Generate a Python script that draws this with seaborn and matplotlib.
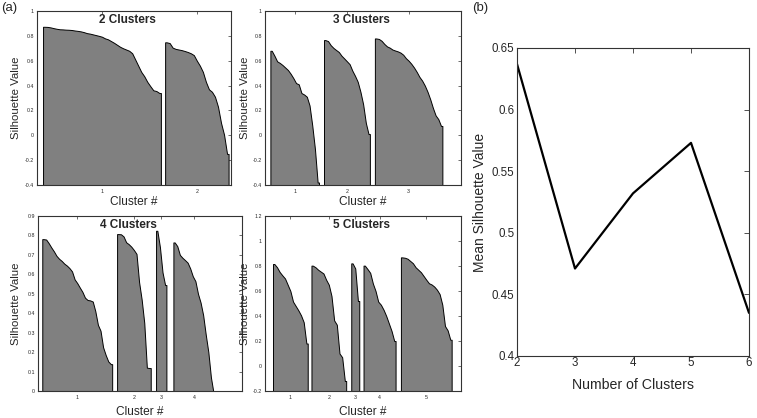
import numpy as np
import pandas as pd
import matplotlib
matplotlib.use("Agg")
import matplotlib.pyplot as plt
import seaborn as sns
from matplotlib.ticker import FuncFormatter

# ---------------- data: sorted silhouette values per cluster ----------------
s2_c1 = [0.873, 0.872, 0.868, 0.862, 0.857, 0.853, 0.852, 0.850, 0.849, 0.847,
         0.843, 0.840, 0.836, 0.830, 0.822, 0.818, 0.812, 0.806, 0.800, 0.793,
         0.780, 0.772, 0.758, 0.744, 0.728, 0.712, 0.700, 0.690, 0.680, 0.660,
         0.610, 0.560, 0.510, 0.475, 0.430, 0.395, 0.362, 0.356, 0.340]
s2_c2 = [0.748, 0.742, 0.705, 0.695, 0.690, 0.685, 0.678, 0.670, 0.660, 0.645,
         0.600, 0.560, 0.510, 0.430, 0.370, 0.350, 0.310, 0.230, 0.100, 0.005,
         -0.150]

s3_c1 = [0.680, 0.640, 0.595, 0.582, 0.565, 0.545, 0.525, 0.495, 0.460, 0.420,
         0.410, 0.340, 0.328, 0.310, 0.240, 0.080, -0.110, -0.380]
s3_c2 = [0.766, 0.758, 0.725, 0.703, 0.686, 0.670, 0.640, 0.618, 0.595, 0.572,
         0.520, 0.478, 0.430, 0.350, 0.250, 0.100, 0.010]
s3_c3 = [0.779, 0.775, 0.760, 0.735, 0.715, 0.705, 0.690, 0.682, 0.675, 0.665,
         0.648, 0.620, 0.600, 0.575, 0.545, 0.510, 0.470, 0.440, 0.400, 0.350,
         0.290, 0.220, 0.160, 0.130, 0.075]

s4_c1 = [0.781, 0.779, 0.760, 0.738, 0.718, 0.695, 0.680, 0.669, 0.655, 0.645,
         0.632, 0.615, 0.574, 0.555, 0.532, 0.510, 0.480, 0.468, 0.466, 0.460,
         0.410, 0.340, 0.310, 0.225, 0.185, 0.152, 0.138]
s4_c2 = [0.807, 0.806, 0.795, 0.765, 0.755, 0.742, 0.725, 0.705, 0.560, 0.470,
         0.350, 0.120, 0.118]
s4_c3 = [0.824, 0.740, 0.610, 0.545]
s4_c4 = [0.764, 0.745, 0.700, 0.685, 0.673, 0.660, 0.630, 0.590, 0.565, 0.500,
         0.455, 0.390, 0.290, 0.200, 0.070, -0.010]

s5_c1 = [0.816, 0.790, 0.752, 0.725, 0.700, 0.650, 0.600, 0.515, 0.480, 0.445,
         0.405, 0.350, 0.180]
s5_c2 = [0.803, 0.790, 0.770, 0.755, 0.740, 0.690, 0.650, 0.560, 0.365, 0.330,
         0.100, 0.070, -0.120]
s5_c3 = [0.821, 0.780, 0.520]
s5_c4 = [0.803, 0.775, 0.745, 0.660, 0.600, 0.515, 0.490, 0.450, 0.400, 0.340,
         0.280, 0.200]
s5_c5 = [0.869, 0.866, 0.858, 0.840, 0.822, 0.790, 0.770, 0.750, 0.720, 0.690,
         0.662, 0.652, 0.635, 0.610, 0.575, 0.490, 0.320, 0.285, 0.210]

yticks_k2 = [-0.4, -0.2, 0, 0.2, 0.4, 0.6, 0.8, 1]
yticks_k3 = [-0.4, -0.2, 0, 0.2, 0.4, 0.6, 0.8, 1]
yticks_k4 = [0, 0.1, 0.2, 0.3, 0.4, 0.5, 0.6, 0.7, 0.8, 0.9]
yticks_k5 = [-0.2, 0, 0.2, 0.4, 0.6, 0.8, 1, 1.2]

n_clusters = [2, 3, 4, 5, 6]
mean_sil = [0.637, 0.471, 0.532, 0.573, 0.435]
yticks_b = [0.4, 0.45, 0.5, 0.55, 0.6, 0.65]

# ---------------- style ----------------
sns.set_style("white")
plt.rcParams["font.family"] = ["Liberation Sans", "DejaVu Sans"]

W, H = 757, 418
fig = plt.figure(figsize=(W / 100, H / 100), dpi=100)

SPINE = "#333333"
FILL = "#808080"
fmt = FuncFormatter(lambda v, p: "%g" % round(v, 3))


def add_axes_px(x0, y0, x1, y1):
    return fig.add_axes([x0 / W, 1 - y1 / H, (x1 - x0) / W, (y1 - y0) / H])


# layout (pixels / units), kept separate from the data
panels = [
    dict(k=2, clusters=[s2_c1, s2_c2], rect=(37, 11, 231, 185), ylim=(-0.4, 1.0),
         yticks=yticks_k2, left=2.0, gaps=[1.4], xmax=64.2,
         ylab_x=16, xlab_y=201.7, title_xy=(127.7, 20)),
    dict(k=3, clusters=[s3_c1, s3_c2, s3_c3], rect=(265, 11, 461, 185), ylim=(-0.4, 1.0),
         yticks=yticks_k3, left=2.0, gaps=[1.85, 1.85], xmax=72.6,
         ylab_x=245, xlab_y=201.7, title_xy=(361.7, 20)),
    dict(k=4, clusters=[s4_c1, s4_c2, s4_c3, s4_c4], rect=(38, 216, 242, 391), ylim=(0, 0.9),
         yticks=yticks_k4, left=1.65, gaps=[1.9, 2.05, 2.7], xmax=78.8,
         ylab_x=16, xlab_y=411.7, title_xy=(128, 225)),
    dict(k=5, clusters=[s5_c1, s5_c2, s5_c3, s5_c4, s5_c5], rect=(265, 216, 461, 391),
         ylim=(-0.2, 1.2), yticks=yticks_k5, left=3.0, gaps=[1.4, 1.9, 1.6, 2.0], xmax=73.4,
         ylab_x=245, xlab_y=411.7, title_xy=(361.7, 225)),
]

for p in panels:
    x0, y0, x1, y1 = p["rect"]
    ax = add_axes_px(x0, y0, x1, y1)
    ybot = p["ylim"][0]
    start = p["left"]
    centers = []
    for j, vals in enumerate(p["clusters"]):
        vals = np.asarray(vals, dtype=float)
        n = len(vals)
        xs = np.concatenate([[start], start + np.arange(n) + 0.5, [start + n]])
        ys = np.concatenate([[vals[0]], vals, [vals[-1]]])
        ax.fill_between(xs, ys, ybot - 1.0, facecolor=FILL, edgecolor="black",
                        linewidth=0.7, zorder=2)
        centers.append(start + n / 2)
        if j < len(p["gaps"]):
            start += n + p["gaps"][j]
    ax.set_xlim(0, p["xmax"])
    ax.set_ylim(*p["ylim"])
    ax.set_xticks(centers)
    ax.set_xticklabels([str(i + 1) for i in range(p["k"])])
    ax.set_yticks(p["yticks"])
    ax.yaxis.set_major_formatter(fmt)
    ax.tick_params(axis="both", direction="in", length=2, width=0.5, color=SPINE,
                   labelsize=3.8, top=True, right=True)
    ax.tick_params(axis="y", pad=2.2)
    ax.tick_params(axis="x", pad=3.0)
    for s in ax.spines.values():
        s.set_color(SPINE)
        s.set_linewidth(0.8)
        s.set_zorder(5)
    ax.set_ylabel("Silhouette Value", fontsize=8.2, va="center", ha="center")
    ax.yaxis.set_label_coords((p["ylab_x"] - x0) / (x1 - x0), 0.5)
    ax.set_xlabel("Cluster #", fontsize=8.6, va="center", ha="center")
    ax.xaxis.set_label_coords(0.5, (y1 - p["xlab_y"]) / (y1 - y0))
    tx, ty = p["title_xy"]
    ax.text((tx - x0) / (x1 - x0), (y1 - ty) / (y1 - y0), f"{p['k']} Clusters",
            transform=ax.transAxes, ha="center", va="center",
            fontsize=8.5, fontweight="bold")

# ---------------- panel (b) ----------------
bx0, by0, bx1, by1 = 517, 48, 749, 356
axb = add_axes_px(bx0, by0, bx1, by1)
df_b = pd.DataFrame({"k": n_clusters, "mean": mean_sil})
sns.lineplot(data=df_b, x="k", y="mean", ax=axb, color="black", linewidth=1.6)
axb.set_xlim(2, 6)
axb.set_ylim(0.4, 0.65)
axb.set_xticks(n_clusters)
axb.set_yticks(yticks_b)
axb.yaxis.set_major_formatter(fmt)
axb.tick_params(axis="both", direction="in", length=3.5, width=0.6, color=SPINE,
                labelsize=8.3, top=True, right=True)
axb.tick_params(axis="y", pad=1.8)
axb.tick_params(axis="x", pad=1.0)
for s in axb.spines.values():
    s.set_color(SPINE)
    s.set_linewidth(0.8)
axb.set_ylabel("Mean Silhouette Value", fontsize=10, va="center", ha="center")
axb.yaxis.set_label_coords((480 - bx0) / (bx1 - bx0), 0.5)
axb.set_xlabel("Number of Clusters", fontsize=10.2, va="center", ha="center")
axb.xaxis.set_label_coords(0.5, (by1 - 385) / (by1 - by0))

fig.text(9.5 / W, 1 - 8.5 / H, "(a)", ha="center", va="center", fontsize=9.5)
fig.text(480 / W, 1 - 8.5 / H, "(b)", ha="center", va="center", fontsize=9.5)

fig.savefig("out.png", dpi=100, facecolor="white")
